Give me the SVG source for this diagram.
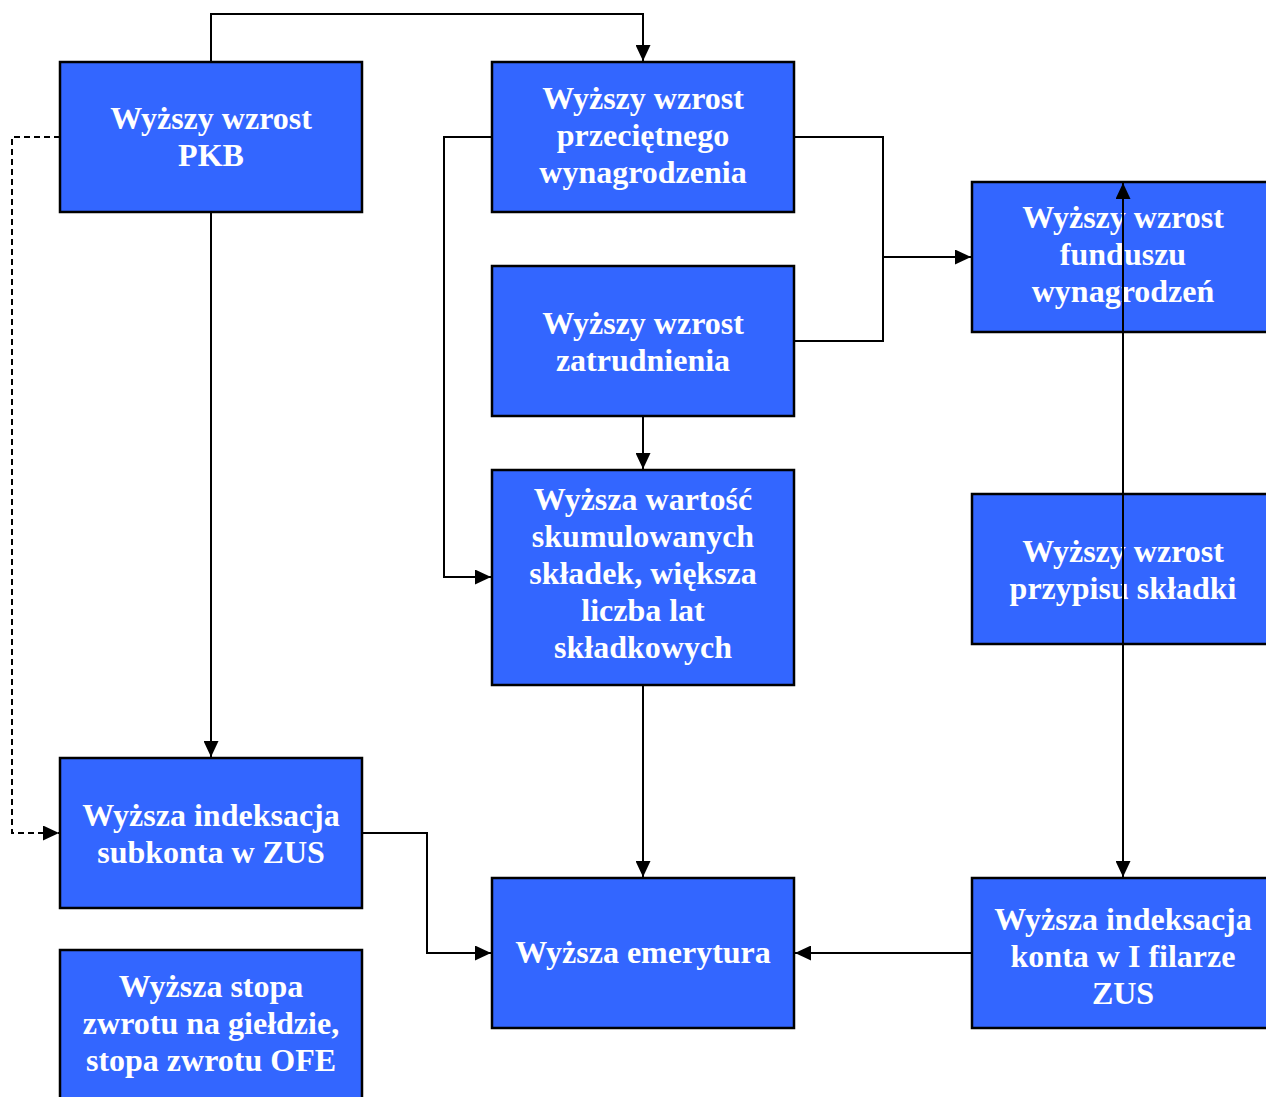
<svg xmlns="http://www.w3.org/2000/svg" width="1266" height="1097" viewBox="0 0 1266 1097">
<defs>
<style>
.box{fill:#3366FF;stroke:#000;stroke-width:2.5}
.t{font-family:"Liberation Serif","Times New Roman",serif;font-weight:bold;font-size:32px;fill:#fff;text-anchor:middle}
.c{fill:none;stroke:#000;stroke-width:2}
.d{stroke-dasharray:6,4}
</style>
<marker id="ah" viewBox="0 0 10 10" refX="10" refY="5" markerWidth="16" markerHeight="15" markerUnits="userSpaceOnUse" orient="auto-start-reverse" preserveAspectRatio="none">
<path d="M0,0 L10,5 L0,10 Z" fill="#000"/>
</marker>
</defs>
<rect width="1266" height="1097" fill="#fff"/>
<g id="nodes">
<g id="pkb"><rect class="box" x="60" y="62" width="302" height="150"/><text class="t" x="211"><tspan x="211" y="129">Wyższy wzrost</tspan><tspan x="211" y="166">PKB</tspan></text></g>
<g id="wynagrodzenie"><rect class="box" x="492" y="62" width="302" height="150"/><text class="t"><tspan x="643" y="109">Wyższy wzrost</tspan><tspan x="643" y="146">przeciętnego</tspan><tspan x="643" y="183">wynagrodzenia</tspan></text></g>
<g id="zatrudnienie"><rect class="box" x="492" y="266" width="302" height="150"/><text class="t"><tspan x="643" y="334">Wyższy wzrost</tspan><tspan x="643" y="371">zatrudnienia</tspan></text></g>
<g id="skladki"><rect class="box" x="492" y="470" width="302" height="215"/><text class="t"><tspan x="643" y="510">Wyższa wartość</tspan><tspan x="643" y="547">skumulowanych</tspan><tspan x="643" y="584">składek, większa</tspan><tspan x="643" y="621">liczba lat</tspan><tspan x="643" y="658">składkowych</tspan></text></g>
<g id="fundusz"><rect class="box" x="972" y="182" width="304" height="150"/><text class="t"><tspan x="1123" y="228">Wyższy wzrost</tspan><tspan x="1123" y="265">funduszu</tspan><tspan x="1123" y="302">wynagrodzeń</tspan></text></g>
<g id="przypis"><rect class="box" x="972" y="494" width="304" height="150"/><text class="t"><tspan x="1123" y="562">Wyższy wzrost</tspan><tspan x="1123" y="599">przypisu składki</tspan></text></g>
<g id="subkonto"><rect class="box" x="60" y="758" width="302" height="150"/><text class="t"><tspan x="211" y="826">Wyższa indeksacja</tspan><tspan x="211" y="863">subkonta w ZUS</tspan></text></g>
<g id="emerytura"><rect class="box" x="492" y="878" width="302" height="150"/><text class="t"><tspan x="643" y="963">Wyższa emerytura</tspan></text></g>
<g id="konto"><rect class="box" x="972" y="878" width="304" height="150"/><text class="t"><tspan x="1123" y="930">Wyższa indeksacja</tspan><tspan x="1123" y="967">konta w I filarze</tspan><tspan x="1123" y="1004">ZUS</tspan></text></g>
<g id="gielda"><rect class="box" x="60" y="950" width="302" height="160"/><text class="t"><tspan x="211" y="997">Wyższa stopa</tspan><tspan x="211" y="1034">zwrotu na giełdzie,</tspan><tspan x="211" y="1071">stopa zwrotu OFE</tspan></text></g>
</g>
<g id="connectors">
<path class="c" d="M211,62 V14 H643 V61" marker-end="url(#ah)"/>
<path class="c d" d="M60,137 H12 V833 H59" marker-end="url(#ah)"/>
<path class="c" d="M211,212 V757" marker-end="url(#ah)"/>
<path class="c" d="M492,137 H444 V577 H491" marker-end="url(#ah)"/>
<path class="c" d="M794,137 H883 V341 H794"/>
<path class="c" d="M883,257 H971" marker-end="url(#ah)"/>
<path class="c" d="M643,416 V469" marker-end="url(#ah)"/>
<path class="c" d="M643,685 V877" marker-end="url(#ah)"/>
<path class="c" d="M362,833 H427 V953 H491" marker-end="url(#ah)"/>
<path class="c" d="M972,953 H795" marker-end="url(#ah)"/>
<path class="c" d="M1123,183 V877" marker-start="url(#ah)" marker-end="url(#ah)"/>
</g>
</svg>
